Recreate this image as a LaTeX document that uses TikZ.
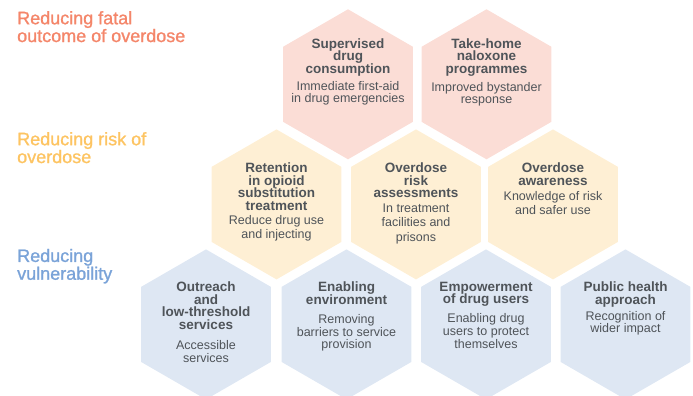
\documentclass[tikz,border=0pt]{standalone}
\usepackage{fontspec}
\setmainfont{Liberation Sans}
\newfontfamily\headfam[FakeBold=1.2]{Liberation Sans}
\definecolor{hpink}{HTML}{FBDDD6}
\definecolor{hyellow}{HTML}{FEEFD4}
\definecolor{hblue}{HTML}{DEE7F3}
\definecolor{cfatal}{HTML}{F4866A}
\definecolor{crisk}{HTML}{FDC462}
\definecolor{cvuln}{HTML}{7AA3D8}
\definecolor{tgrey}{HTML}{4F5459}
\newcommand\titlefont{\fontsize{13.5}{12.6}\selectfont\bfseries\lineskiplimit=-20pt\relax}
\newcommand\bodyfont[1]{\fontsize{12.5}{#1}\selectfont\lineskiplimit=-20pt\relax}
\newcommand\headingfont{\headfam\fontsize{18}{17.8}\selectfont\lineskiplimit=-20pt\relax}
\newcommand\hexat[3]{\fill[#3] (#1) +(90:75) -- +(150:75) -- +(210:75) -- +(270:75) -- +(330:75) -- +(30:75) -- cycle;}
\tikzset{
  titletext/.style={anchor=north, inner sep=0pt, align=center, text=tgrey, font=\titlefont},
  bodytext/.style={anchor=north, inner sep=0pt, align=center, text=tgrey, font={\bodyfont{#1}}},
  heading/.style={anchor=north west, inner sep=0pt, align=left, font=\headingfont},
}
\begin{document}
\begin{tikzpicture}[x=1pt,y=-1pt]
\useasboundingbox (0,0) rectangle (693,396);
\clip (0,0) rectangle (693,396);
% hex centres
\coordinate (c1) at (348,84.3);
\coordinate (c2) at (486.5,84.3);
\coordinate (c3) at (276.5,204.4);
\coordinate (c4) at (416,204.4);
\coordinate (c5) at (553,204.4);
\coordinate (c6) at (206,324.4);
\coordinate (c7) at (346.5,324.4);
\coordinate (c8) at (486,324.4);
\coordinate (c9) at (625.5,324.4);
\hexat{c1}{}{fill=hpink}
\hexat{c2}{}{fill=hpink}
\hexat{c3}{}{fill=hyellow}
\hexat{c4}{}{fill=hyellow}
\hexat{c5}{}{fill=hyellow}
\hexat{c6}{}{fill=hblue}
\hexat{c7}{}{fill=hblue}
\hexat{c8}{}{fill=hblue}
\hexat{c9}{}{fill=hblue}
% headings
\node[heading, text=cfatal] (g1) at (17,11) {Reducing fatal\\outcome of overdose};
\node[heading, text=crisk] (g2) at (17,132) {Reducing risk of\\overdose};
\node[heading, text=cvuln] (g3) at (17,248.7) {Reducing\\vulnerability};
% row 1
\node[titletext] (t1) at (348,38.4) {Supervised\\drug\\consumption};
\node[bodytext=12.2] (b1) at (348,80.9) {Immediate first-aid\\in drug emergencies};
\node[titletext] (t2) at (486.5,38.4) {Take-home\\naloxone\\programmes};
\node[bodytext=12.2] (b2) at (486.5,82.4) {Improved bystander\\response};
% row 2
\node[titletext] (t3) at (276.5,162.8) {Retention\\in opioid\\substitution\\treatment};
\node[bodytext=14.5] (b3) at (276.5,215.2) {Reduce drug use\\and injecting};
\node[titletext] (t4) at (416,162.8) {Overdose\\risk\\assessments};
\node[bodytext=14.5] (b4) at (416,203.6) {In treatment\\facilities and\\prisons};
\node[titletext] (t5) at (553,162.8) {Overdose\\awareness};
\node[bodytext=14.5] (b5) at (553,190.9) {Knowledge of risk\\and safer use};
% row 3
\node[titletext] (t6) at (206,281.8) {Outreach\\and\\low-threshold\\services};
\node[bodytext=12.7] (b6) at (206,340.2) {Accessible\\services};
\node[titletext] (t7) at (346.5,281.8) {Enabling\\environment};
\node[bodytext=12.7] (b7) at (346.5,314.2) {Removing\\barriers to service\\provision};
\node[titletext] (t8) at (486,281.8) {Empowerment\\of drug users};
\node[bodytext=12.7] (b8) at (486,313.6) {Enabling drug\\users to protect\\themselves};
\node[titletext] (t9) at (625.5,281.8) {Public health\\approach};
\node[bodytext=12.7] (b9) at (625.5,310.9) {Recognition of\\wider impact};
\end{tikzpicture}
\end{document}
